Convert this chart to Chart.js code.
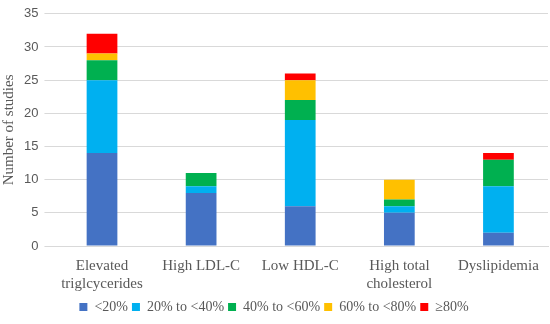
<!DOCTYPE html>
<html>
<head>
<meta charset="utf-8">
<script src="https://cdn.jsdelivr.net/npm/chart.js@4/dist/chart.umd.min.js"></script>
<style>
  html, body { margin: 0; padding: 0; background: #fff; }
  #wrap { width: 550px; height: 324px; }
</style>
</head>
<body>
<div id="wrap"><canvas id="c"></canvas></div>
<script>
// categories and series
const categories = [
  ['Elevated', 'triglcycerides'],
  'High LDL-C',
  'Low HDL-C',
  ['High total', 'cholesterol'],
  'Dyslipidemia'
];
const seriesNames = ['<20%', '20% to <40%', '40% to <60%', '60% to <80%', '≥80%'];
const under20 = [14, 8, 6, 5, 2];
const from20to40 = [11, 1, 13, 1, 7];
const from40to60 = [3, 2, 3, 1, 4];
const from60to80 = [1, 0, 3, 3, 0];
const over80 = [3, 0, 1, 0, 1];
const yTicks = [0, 5, 10, 15, 20, 25, 30, 35];

const colors = ['#4472C4', '#00B0F0', '#00B050', '#FFC000', '#FF0000'];
const values = [under20, from20to40, from40to60, from60to80, over80];

const serif = "'Liberation Serif', 'DejaVu Serif', serif";

new Chart(document.getElementById('c'), {
  type: 'bar',
  data: {
    labels: categories,
    datasets: seriesNames.map((name, i) => ({
      label: name,
      data: values[i],
      backgroundColor: colors[i],
      borderWidth: 0,
      barPercentage: 0.62,
      categoryPercentage: 0.5
    }))
  },
  options: {
    responsive: true,
    maintainAspectRatio: false,
    animation: false,
    layout: { padding: { top: 4, right: 2, left: 0, bottom: 0 } },
    plugins: {
      tooltip: { enabled: false },
      legend: {
        position: 'bottom',
        labels: {
          boxWidth: 8,
          boxHeight: 8,
          padding: 4,
          color: '#595959',
          font: { family: serif, size: 14 }
        }
      }
    },
    scales: {
      x: {
        stacked: true,
        grid: { display: false },
        border: { color: '#d9d9d9' },
        ticks: {
          color: '#595959',
          maxRotation: 0,
          autoSkip: false,
          font: { family: serif, size: 15, lineHeight: 1.2 },
          padding: 3
        }
      },
      y: {
        stacked: true,
        min: 0,
        max: 35,
        afterBuildTicks: (axis) => { axis.ticks = yTicks.map(v => ({ value: v })); },
        grid: { color: '#d9d9d9', lineWidth: 1 },
        border: { display: false },
        ticks: {
          color: '#595959',
          font: { family: "'Liberation Sans', 'DejaVu Sans', sans-serif", size: 13 },
          padding: 6
        },
        title: {
          display: true,
          text: 'Number of studies',
          color: '#595959',
          font: { family: serif, size: 15 },
          padding: { top: 0, bottom: 0 }
        }
      }
    }
  }
});
</script>
</body>
</html>
